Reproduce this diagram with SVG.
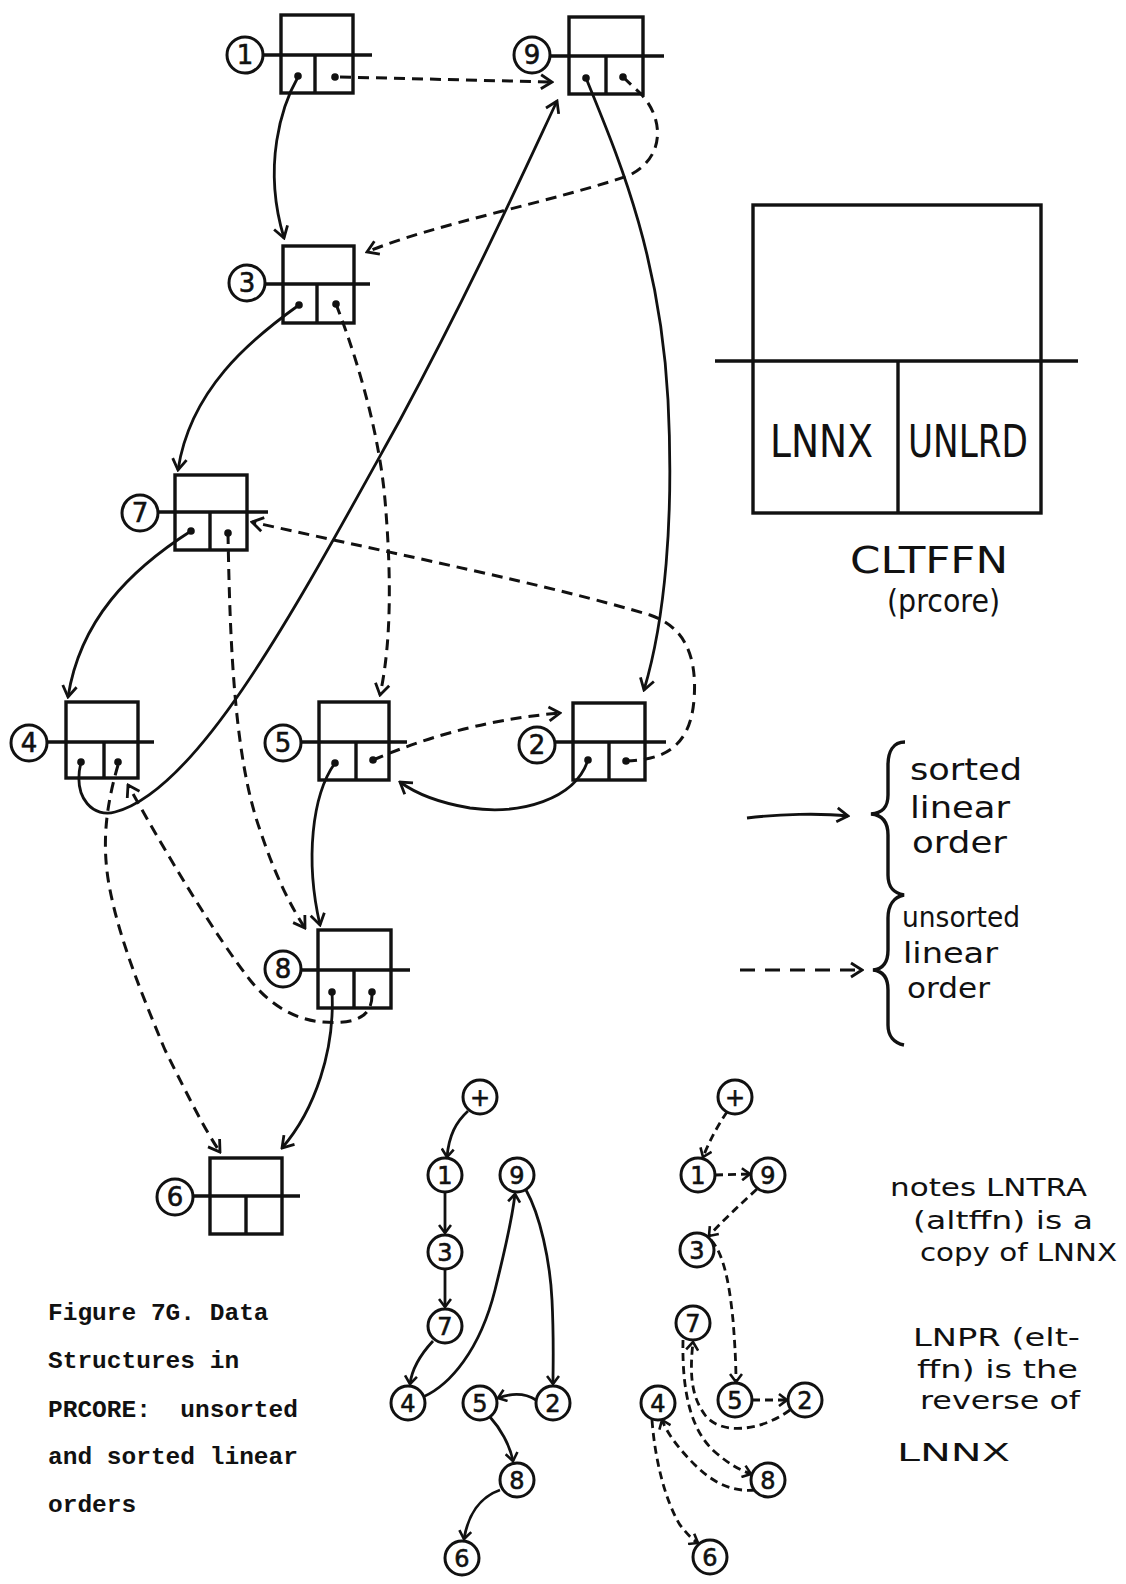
<svg xmlns="http://www.w3.org/2000/svg" width="1126" height="1584" viewBox="0 0 1126 1584">
<style>
.bg{fill:#fff}
.box{fill:none;stroke:#111;stroke-width:3.4}
.ln{stroke:#111;stroke-width:3.4;fill:none}
.cir{fill:#fff;stroke:#111;stroke-width:3}
.dot{fill:#111}
.lbl{font-family:"DejaVu Sans",sans-serif;font-size:26px;text-anchor:middle;fill:#111;stroke:#111;stroke-width:0.6}
.slbl{font-family:"DejaVu Sans",sans-serif;font-size:24px;text-anchor:middle;fill:#111;stroke:#111;stroke-width:0.6}
.solid{fill:none;stroke:#111;stroke-width:2.8;marker-end:url(#ah)}
.dash{fill:none;stroke:#111;stroke-width:3;stroke-dasharray:11 7;marker-end:url(#ah)}
.ssolid{fill:none;stroke:#111;stroke-width:2.8;marker-end:url(#ahs)}
.sdash{fill:none;stroke:#111;stroke-width:2.8;stroke-dasharray:8 5;marker-end:url(#ahs)}
.hand{font-family:"DejaVu Sans",sans-serif;fill:#111}
.cap{font-family:"Liberation Mono",monospace;font-size:24.5px;font-weight:bold;fill:#111}
</style>
<defs>
<marker id="ah" viewBox="-13 -9 15 18" refX="0" refY="0" markerWidth="15" markerHeight="18" markerUnits="userSpaceOnUse" orient="auto">
<path d="M-11,-7 L0,0 L-11,7" fill="none" stroke="#111" stroke-width="2.8" stroke-dasharray="none"/>
</marker>
<marker id="ahs" viewBox="-10 -7 12 14" refX="0" refY="0" markerWidth="12" markerHeight="14" markerUnits="userSpaceOnUse" orient="auto">
<path d="M-8,-6 L0,0 L-8,6" fill="none" stroke="#111" stroke-width="2.6" stroke-dasharray="none"/>
</marker>
</defs>
<rect class="bg" x="0" y="0" width="1126" height="1584"/>

<g id="connectors">
<!-- sorted (solid) -->
<path class="solid" d="M298,77 C282,105 262,165 284,238"/>
<path class="solid" d="M299,305 C250,340 190,390 178,470"/>
<path class="solid" d="M191,531 C130,570 80,620 68,697"/>
<path class="solid" d="M81,762 C72,800 95,818 115,812 C200,790 300,600 400,420 C470,290 520,180 557,101"/>
<path class="solid" d="M586,78 C615,150 660,250 668,400 C674,520 665,620 644,690"/>
<path class="solid" d="M588,760 C575,800 520,815 470,808 C440,803 415,793 400,782"/>
<path class="solid" d="M335,763 C312,795 305,860 320,925"/>
<path class="solid" d="M332,992 C335,1050 315,1110 282,1148"/>
<!-- unsorted (dashed) -->
<path class="dash" d="M340,77 L552,82"/>
<path class="dash" d="M623,77 L640,93 C662,115 668,155 630,175 C560,200 430,225 367,252"/>
<path class="dash" d="M336,304 C350,340 378,420 385,500 C391,570 392,640 380,695"/>
<path class="dash" d="M373,760 C420,740 480,720 560,713"/>
<path class="dash" d="M626,761 C660,760 690,750 694,700 C698,650 680,625 650,615 C550,585 400,555 252,522"/>
<path class="dash" d="M228,533 C230,650 235,760 260,830 C275,875 290,905 305,928"/>
<path class="dash" d="M372,995 C372,1020 350,1024 323,1022 C295,1020 270,1005 250,980 C215,935 170,860 128,785"/>
<path class="dash" d="M118,765 C108,800 100,840 110,890 C120,940 140,990 165,1050 C190,1100 205,1130 220,1152"/>
</g>

<g id="node-1">
<rect class="box" x="281" y="15" width="72" height="78"/>
<line class="ln" x1="263" y1="55" x2="372" y2="55"/>
<line class="ln" x1="315" y1="55" x2="315" y2="93"/>
<circle class="cir" cx="245" cy="55" r="18"/>
<text class="lbl" x="245" y="64">1</text>
<circle class="dot" cx="298" cy="76" r="3.8"/>
<circle class="dot" cx="335" cy="77" r="3.8"/>
</g>
<g id="node-9">
<rect class="box" x="569" y="17" width="74" height="77"/>
<line class="ln" x1="550" y1="56" x2="664" y2="56"/>
<line class="ln" x1="606" y1="56" x2="606" y2="94"/>
<circle class="cir" cx="532" cy="55" r="18"/>
<text class="lbl" x="532" y="64">9</text>
<circle class="dot" cx="586" cy="78" r="3.8"/>
<circle class="dot" cx="623" cy="77" r="3.8"/>
</g>
<g id="node-3">
<rect class="box" x="283" y="246" width="71" height="77"/>
<line class="ln" x1="265" y1="284" x2="370" y2="284"/>
<line class="ln" x1="317" y1="284" x2="317" y2="323"/>
<circle class="cir" cx="247" cy="283" r="18"/>
<text class="lbl" x="247" y="292">3</text>
<circle class="dot" cx="299" cy="305" r="3.8"/>
<circle class="dot" cx="336" cy="304" r="3.8"/>
</g>
<g id="node-7">
<rect class="box" x="175" y="475" width="72" height="75"/>
<line class="ln" x1="158" y1="512" x2="268" y2="512"/>
<line class="ln" x1="210" y1="512" x2="210" y2="550"/>
<circle class="cir" cx="140" cy="513" r="18"/>
<text class="lbl" x="140" y="522">7</text>
<circle class="dot" cx="191" cy="531" r="3.8"/>
<circle class="dot" cx="228" cy="533" r="3.8"/>
</g>
<g id="node-4">
<rect class="box" x="66" y="702" width="72" height="76"/>
<line class="ln" x1="47" y1="742" x2="154" y2="742"/>
<line class="ln" x1="104" y1="742" x2="104" y2="778"/>
<circle class="cir" cx="29" cy="743" r="18"/>
<text class="lbl" x="29" y="752">4</text>
<circle class="dot" cx="81" cy="762" r="3.8"/>
<circle class="dot" cx="118" cy="762" r="3.8"/>
</g>
<g id="node-5">
<rect class="box" x="319" y="702" width="70" height="78"/>
<line class="ln" x1="301" y1="742" x2="407" y2="742"/>
<line class="ln" x1="356" y1="742" x2="356" y2="780"/>
<circle class="cir" cx="283" cy="743" r="18"/>
<text class="lbl" x="283" y="752">5</text>
<circle class="dot" cx="335" cy="763" r="3.8"/>
<circle class="dot" cx="373" cy="760" r="3.8"/>
</g>
<g id="node-2">
<rect class="box" x="573" y="703" width="72" height="77"/>
<line class="ln" x1="555" y1="742" x2="666" y2="742"/>
<line class="ln" x1="609" y1="742" x2="609" y2="780"/>
<circle class="cir" cx="537" cy="745" r="18"/>
<text class="lbl" x="537" y="754">2</text>
<circle class="dot" cx="588" cy="760" r="3.8"/>
<circle class="dot" cx="626" cy="761" r="3.8"/>
</g>
<g id="node-8">
<rect class="box" x="318" y="930" width="73" height="78"/>
<line class="ln" x1="301" y1="970" x2="410" y2="970"/>
<line class="ln" x1="354" y1="970" x2="354" y2="1008"/>
<circle class="cir" cx="283" cy="969" r="18"/>
<text class="lbl" x="283" y="978">8</text>
<circle class="dot" cx="332" cy="992" r="3.8"/>
<circle class="dot" cx="372" cy="992" r="3.8"/>
</g>
<g id="node-6">
<rect class="box" x="210" y="1158" width="72" height="76"/>
<line class="ln" x1="193" y1="1196" x2="300" y2="1196"/>
<line class="ln" x1="246" y1="1196" x2="246" y2="1234"/>
<circle class="cir" cx="175" cy="1197" r="18"/>
<text class="lbl" x="175" y="1206">6</text>
</g>

<g id="cltffn">
<rect class="box" x="753" y="205" width="288" height="308"/>
<line class="ln" x1="715" y1="361" x2="1078" y2="361"/>
<line class="ln" x1="898" y1="361" x2="898" y2="513"/>
<text class="hand" x="770" y="457" font-size="44" textLength="103" lengthAdjust="spacingAndGlyphs">LNNX</text>
<text class="hand" x="908" y="457" font-size="44" textLength="120" lengthAdjust="spacingAndGlyphs">UNLRD</text>
<text class="hand" x="850" y="573" font-size="38" textLength="158" lengthAdjust="spacingAndGlyphs">CLTFFN</text>
<text class="hand" x="887" y="612" font-size="32" textLength="113" lengthAdjust="spacingAndGlyphs">(prcore)</text>
</g>

<g id="legend">
<path class="solid" d="M747,818 C780,814 820,813 848,816"/>
<path class="dash" d="M740,970 L862,970" style="stroke-dasharray:15 10"/>
<path class="ln" d="M905,742 C893,742 888,752 888,765 L888,795 C888,808 882,813 871,814 C882,815 888,822 888,835 L888,875 C888,888 894,893 904,895 C894,897 888,905 888,918 L888,950 C888,962 883,969 873,970 C883,971 888,978 888,990 L888,1025 C888,1036 894,1043 904,1045"/>
<text class="hand" x="910" y="780" font-size="30" textLength="112" lengthAdjust="spacingAndGlyphs">sorted</text>
<text class="hand" x="910" y="818" font-size="30" textLength="100" lengthAdjust="spacingAndGlyphs">linear</text>
<text class="hand" x="912" y="853" font-size="30" textLength="95" lengthAdjust="spacingAndGlyphs">order</text>
<text class="hand" x="902" y="927" font-size="28" textLength="118" lengthAdjust="spacingAndGlyphs">unsorted</text>
<text class="hand" x="903" y="963" font-size="28" textLength="95" lengthAdjust="spacingAndGlyphs">linear</text>
<text class="hand" x="907" y="998" font-size="28" textLength="83" lengthAdjust="spacingAndGlyphs">order</text>
</g>

<g id="notes">
<text class="hand" x="890" y="1196" font-size="24" textLength="197" lengthAdjust="spacingAndGlyphs">notes LNTRA</text>
<text class="hand" x="913" y="1229" font-size="24" textLength="180" lengthAdjust="spacingAndGlyphs">(altffn) is a</text>
<text class="hand" x="920" y="1261" font-size="24" textLength="197" lengthAdjust="spacingAndGlyphs">copy of LNNX</text>
<text class="hand" x="913" y="1346" font-size="24" textLength="167" lengthAdjust="spacingAndGlyphs">LNPR (elt-</text>
<text class="hand" x="917" y="1378" font-size="24" textLength="161" lengthAdjust="spacingAndGlyphs">ffn) is the</text>
<text class="hand" x="920" y="1409" font-size="24" textLength="160" lengthAdjust="spacingAndGlyphs">reverse of</text>
<text class="hand" x="897" y="1461" font-size="24" textLength="113" lengthAdjust="spacingAndGlyphs">LNNX</text>
</g>

<g id="caption">
<text class="cap" x="48" y="1320">Figure 7G. Data</text>
<text class="cap" x="48" y="1368">Structures in</text>
<text class="cap" x="48" y="1417" xml:space="preserve">PRCORE:  unsorted</text>
<text class="cap" x="48" y="1464">and sorted linear</text>
<text class="cap" x="48" y="1512">orders</text>
</g>

<g id="sorted-connectors">
<path class="ssolid" d="M468,1111 C456,1122 449,1135 447,1157"/>
<path class="ssolid" d="M445,1192 L445,1233"/>
<path class="ssolid" d="M445,1269 L445,1307"/>
<path class="ssolid" d="M433,1341 C420,1355 412,1368 410,1384"/>
<path class="ssolid" d="M423,1397 C450,1385 480,1350 495,1290 C505,1250 512,1220 515,1194"/>
<path class="ssolid" d="M526,1190 C540,1215 550,1260 552,1300 C554,1340 553,1365 553,1384"/>
<path class="ssolid" d="M536,1400 C525,1393 512,1393 498,1398"/>
<path class="ssolid" d="M490,1417 C500,1428 510,1445 513,1461"/>
<path class="ssolid" d="M500,1490 C480,1497 468,1515 464,1539"/>
</g>
<g id="sorted-nodes">
<g id="s-plus"><circle class="cir" cx="480" cy="1097" r="17"/><text class="slbl" x="480" y="1106">+</text></g>
<g id="s-1"><circle class="cir" cx="445" cy="1175" r="17"/><text class="slbl" x="445" y="1184">1</text></g>
<g id="s-3"><circle class="cir" cx="445" cy="1252" r="17"/><text class="slbl" x="445" y="1261">3</text></g>
<g id="s-7"><circle class="cir" cx="445" cy="1326" r="17"/><text class="slbl" x="445" y="1335">7</text></g>
<g id="s-4"><circle class="cir" cx="408" cy="1403" r="17"/><text class="slbl" x="408" y="1412">4</text></g>
<g id="s-9"><circle class="cir" cx="517" cy="1175" r="17"/><text class="slbl" x="517" y="1184">9</text></g>
<g id="s-5"><circle class="cir" cx="480" cy="1403" r="17"/><text class="slbl" x="480" y="1412">5</text></g>
<g id="s-2"><circle class="cir" cx="553" cy="1403" r="17"/><text class="slbl" x="553" y="1412">2</text></g>
<g id="s-8"><circle class="cir" cx="517" cy="1480" r="17"/><text class="slbl" x="517" y="1489">8</text></g>
<g id="s-6"><circle class="cir" cx="462" cy="1558" r="17"/><text class="slbl" x="462" y="1567">6</text></g>
</g>

<g id="unsorted-connectors">
<path class="sdash" d="M727,1112 C718,1125 710,1140 703,1157"/>
<path class="sdash" d="M715,1175 L750,1174"/>
<path class="sdash" d="M757,1189 C740,1205 725,1218 709,1236"/>
<path class="sdash" d="M711,1240 C725,1255 730,1290 733,1320 C735,1345 736,1365 736,1382"/>
<path class="sdash" d="M752,1400 L787,1400"/>
<path class="sdash" d="M790,1410 C760,1432 720,1435 705,1415 C690,1395 690,1370 693,1342"/>
<path class="sdash" d="M683,1340 C682,1390 690,1430 715,1452 C730,1465 740,1470 751,1474"/>
<path class="sdash" d="M755,1490 C735,1492 715,1485 695,1465 C680,1450 668,1435 662,1420"/>
<path class="sdash" d="M652,1420 C655,1460 665,1500 680,1525 C688,1535 693,1540 698,1543"/>
</g>
<g id="unsorted-nodes">
<g id="u-plus"><circle class="cir" cx="735" cy="1097" r="17"/><text class="slbl" x="735" y="1106">+</text></g>
<g id="u-1"><circle class="cir" cx="698" cy="1175" r="17"/><text class="slbl" x="698" y="1184">1</text></g>
<g id="u-9"><circle class="cir" cx="768" cy="1175" r="17"/><text class="slbl" x="768" y="1184">9</text></g>
<g id="u-3"><circle class="cir" cx="697" cy="1250" r="17"/><text class="slbl" x="697" y="1259">3</text></g>
<g id="u-7"><circle class="cir" cx="693" cy="1323" r="17"/><text class="slbl" x="693" y="1332">7</text></g>
<g id="u-5"><circle class="cir" cx="735" cy="1400" r="17"/><text class="slbl" x="735" y="1409">5</text></g>
<g id="u-2"><circle class="cir" cx="805" cy="1400" r="17"/><text class="slbl" x="805" y="1409">2</text></g>
<g id="u-4"><circle class="cir" cx="658" cy="1403" r="17"/><text class="slbl" x="658" y="1412">4</text></g>
<g id="u-8"><circle class="cir" cx="768" cy="1480" r="17"/><text class="slbl" x="768" y="1489">8</text></g>
<g id="u-6"><circle class="cir" cx="710" cy="1557" r="17"/><text class="slbl" x="710" y="1566">6</text></g>
</g>
</svg>
